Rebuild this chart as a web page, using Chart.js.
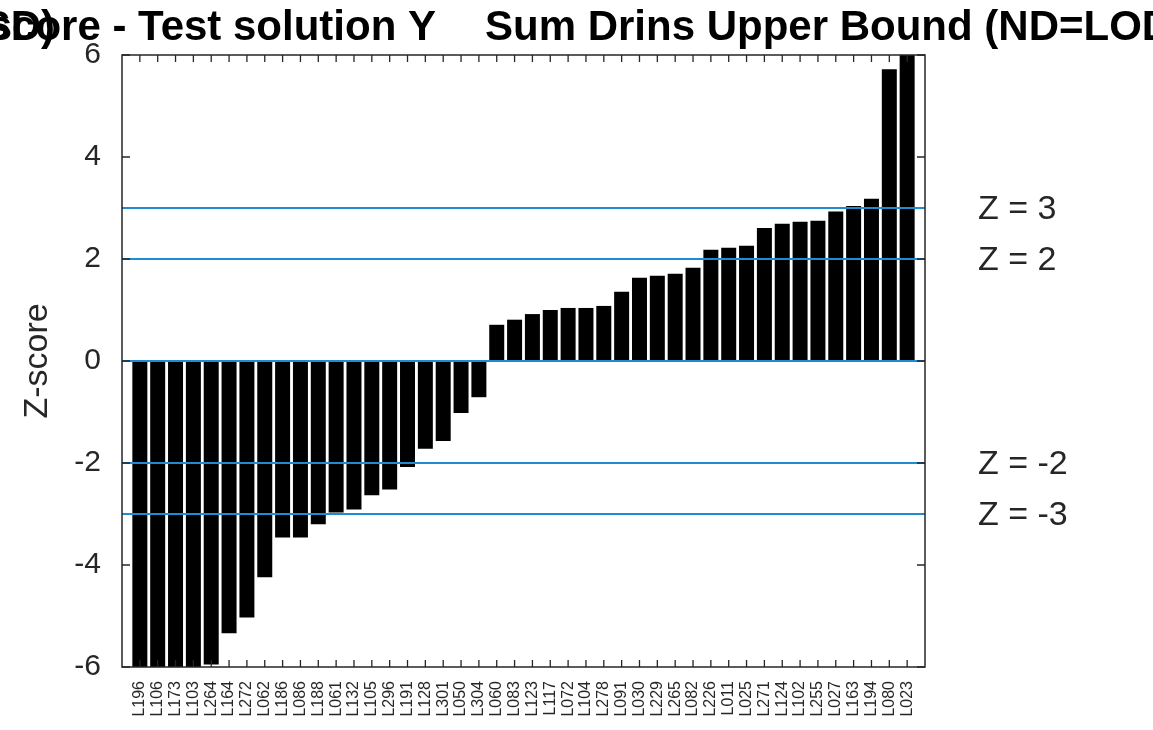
<!DOCTYPE html>
<html>
<head>
<meta charset="utf-8">
<script src="https://cdn.jsdelivr.net/npm/chart.js@4/dist/chart.umd.min.js"></script>
<style>
  html, body { margin: 0; padding: 0; background: #fff; }
</style>
</head>
<body>
<canvas id="chart" width="1153" height="730"></canvas>
<script>
  // lab codes, sorted by z-score
  const labCodes = ['L196','L106','L173','L103','L264','L164','L272','L062','L186','L086','L188',
    'L061','L132','L105','L296','L191','L128','L301','L050','L304','L060','L083','L123','L117',
    'L072','L104','L278','L091','L030','L229','L265','L082','L226','L011','L025','L271','L124',
    'L102','L255','L027','L163','L194','L080','L023'];

  const zScores = [-6.8,-6.6,-6.4,-6.2,-5.95,-5.34,-5.03,-4.24,-3.46,-3.46,-3.2,
    -2.97,-2.91,-2.63,-2.52,-2.08,-1.72,-1.57,-1.02,-0.71,0.71,0.81,0.92,1.0,
    1.04,1.04,1.08,1.36,1.63,1.67,1.71,1.83,2.18,2.22,2.26,2.61,2.69,
    2.73,2.75,2.93,3.04,3.18,5.72,6.6];

  const yTicks = [-6, -4, -2, 0, 2, 4, 6];
  const limitLines = [3, 2, 0, -2, -3];
  const limitLabels = { '3': 'Z = 3', '2': 'Z = 2', '-2': 'Z = -2', '-3': 'Z = -3' };

  const titleLeft = 'Z-score - Test solution Y';
  const titleRight = 'Sum Drins Upper Bound (ND=LOD)';

  const textColor = '#262626';
  const lineBlue = '#1f8bd3';
  const fontFamily = '"Liberation Sans", Arial, sans-serif';

  // lines, box, inner ticks and the texts MATLAB puts outside the axes
  const decorations = {
    id: 'decorations',
    afterDatasetsDraw(chart) {
      const { ctx, chartArea: a, scales: { x, y } } = chart;
      ctx.save();
      ctx.beginPath();
      ctx.rect(a.left, a.top, a.right - a.left, a.bottom - a.top);
      ctx.clip();
      ctx.strokeStyle = lineBlue;
      ctx.lineWidth = 2;
      limitLines.forEach(v => {
        const py = y.getPixelForValue(v);
        ctx.beginPath();
        ctx.moveTo(a.left, py);
        ctx.lineTo(a.right, py);
        ctx.stroke();
      });
      ctx.restore();

      ctx.save();
      ctx.strokeStyle = textColor;
      ctx.lineWidth = 1.3;
      ctx.beginPath();
      labCodes.forEach((l, i) => {
        const px = x.getPixelForValue(i + 1);
        ctx.moveTo(px, a.top); ctx.lineTo(px, a.top + 7);
        ctx.moveTo(px, a.bottom); ctx.lineTo(px, a.bottom - 7);
      });
      yTicks.forEach(v => {
        const py = y.getPixelForValue(v);
        ctx.moveTo(a.left, py); ctx.lineTo(a.left + 8, py);
        ctx.moveTo(a.right, py); ctx.lineTo(a.right - 8, py);
      });
      ctx.stroke();
      ctx.lineWidth = 1.5;
      ctx.strokeRect(a.left, a.top, a.right - a.left, a.bottom - a.top);

      // right side labels
      ctx.fillStyle = textColor;
      ctx.font = '34px ' + fontFamily;
      ctx.textAlign = 'left';
      ctx.textBaseline = 'middle';
      Object.keys(limitLabels).forEach(k => {
        ctx.fillText(limitLabels[k], 978, y.getPixelForValue(Number(k)) + 2);
      });

      // y axis title
      ctx.save();
      ctx.translate(38, (a.top + a.bottom) / 2);
      ctx.rotate(-Math.PI / 2);
      ctx.textAlign = 'center';
      ctx.font = '34px ' + fontFamily;
      ctx.fillText('Z-score', 0, 0);
      ctx.restore();

      // title (clipped by the figure edges, as in the original)
      ctx.fillStyle = '#000';
      ctx.font = 'bold 42px ' + fontFamily;
      ctx.textBaseline = 'alphabetic';
      ctx.textAlign = 'right';
      ctx.fillText(titleLeft, 436, 40);
      ctx.fillText('SD)', 55, 40);
      ctx.textAlign = 'left';
      ctx.fillText(titleRight, 485, 40);
      ctx.restore();
    }
  };

  const ctx = document.getElementById('chart').getContext('2d');
  const chart = new Chart(ctx, {
    type: 'bar',
    data: {
      datasets: [{
        data: zScores.map((v, i) => ({ x: i + 1, y: v })),
        backgroundColor: '#000',
        borderWidth: 0,
        barPercentage: 0.84,
        categoryPercentage: 1
      }]
    },
    options: {
      responsive: false,
      animation: false,
      layout: { padding: { top: 55, right: 228, left: 0, bottom: 0 } },
      plugins: { legend: { display: false }, tooltip: { enabled: false }, title: { display: false } },
      scales: {
        x: {
          type: 'linear',
          min: 0,
          max: 45,
          offset: false,
          grid: { display: false, offset: false },
          border: { display: false },
          afterBuildTicks: s => { s.ticks = labCodes.map((l, i) => ({ value: i + 1 })); },
          afterFit: s => { s.height = 63; },
          ticks: {
            autoSkip: false,
            maxRotation: 90,
            minRotation: 90,
            padding: 6,
            color: textColor,
            font: { family: fontFamily, size: 16 },
            callback: v => labCodes[v - 1]
          }
        },
        y: {
          min: -6,
          max: 6,
          grid: { display: false },
          border: { display: false },
          afterFit: s => { s.width = 122; },
          ticks: {
            stepSize: 2,
            padding: 13,
            color: textColor,
            font: { family: fontFamily, size: 30 }
          }
        }
      }
    },
    plugins: [decorations]
  });
</script>
</body>
</html>
